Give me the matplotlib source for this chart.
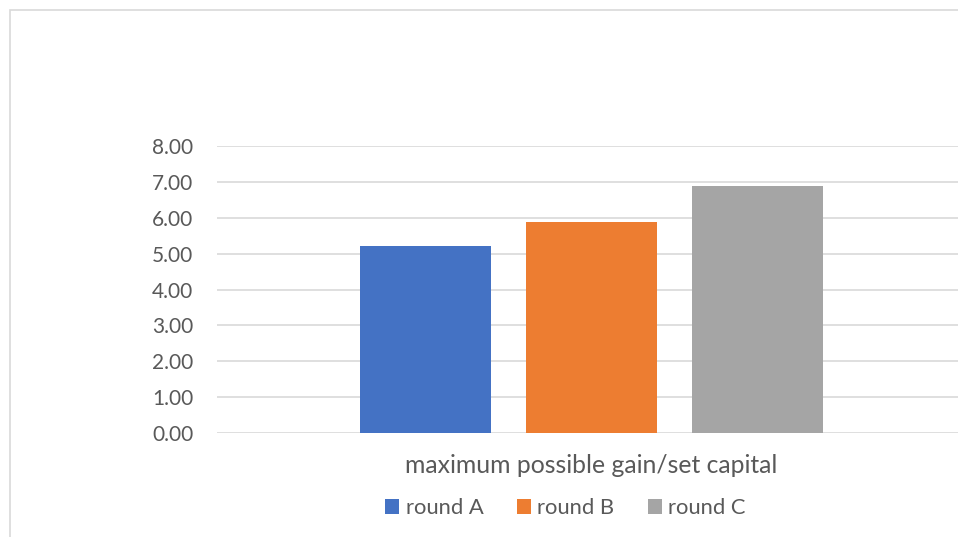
import matplotlib.pyplot as plt
from matplotlib.patches import Rectangle

category = 'maximum possible gain/set capital'
series = ['round A', 'round B', 'round C']
values = [5.20, 5.89, 6.89]
colors = ['#4472c4', '#ed7d31', '#a5a5a5']
yticks = [0, 1, 2, 3, 4, 5, 6, 7, 8]

plt.rcParams['font.family'] = ['Lato', 'DejaVu Sans']
text_color = '#595959'

W, H = 958, 537
fig = plt.figure(figsize=(W / 100, H / 100), dpi=100)

# chart border (cut off on the right and bottom)
fig.patches.append(Rectangle((9.5 / W, -0.1), 1.2, (H - 9.5) / H + 0.1,
                             transform=fig.transFigure, fill=False,
                             edgecolor='#d9d9d9', linewidth=1.2))

ax = fig.add_axes([217 / W, (H - 433) / H, 749 / W, (433 - 146) / H])
offsets = [-1, 0, 1]
for off, v, c, s in zip(offsets, values, colors, series):
    ax.bar(off, v, width=131 / 166, color=c, label=s, zorder=3)

ax.set_xlim(-749 / 332, 749 / 332)
ax.set_ylim(0, 8)
ax.set_yticks(yticks)
ax.set_yticklabels([f'{t:.2f}' for t in yticks], color=text_color, fontsize=15)
ax.set_xticks([0])
ax.set_xticklabels([category], color=text_color, fontsize=17.8)
ax.tick_params(axis='both', length=0)
ax.tick_params(axis='y', pad=17)
ax.tick_params(axis='x', pad=15)
ax.yaxis.grid(True, color='#d9d9d9', linewidth=1.2, zorder=0)
for sp in ax.spines.values():
    sp.set_visible(False)

handles, labels = ax.get_legend_handles_labels()
fig.legend(handles, labels, loc='center', ncol=3,
           bbox_to_anchor=(565.5 / W, (H - 508) / H), frameon=False,
           fontsize=15.8, labelcolor=text_color, handlelength=0.65,
           handleheight=0.65, handletextpad=0.3, columnspacing=1.5)

fig.savefig('out.png', dpi=100)
